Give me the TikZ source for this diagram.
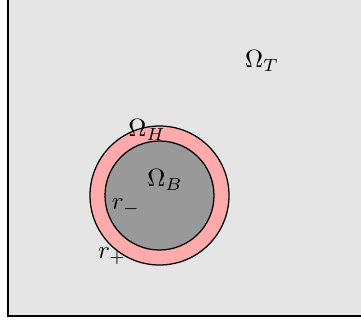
\documentclass[tikz,border=0pt]{standalone}
\begin{document}
\begin{tikzpicture}[x=0.4pt,y=-0.4pt,
  lbl/.style={inner sep=0pt}]
\useasboundingbox (0,0) rectangle (361,322);
\clip (0,0) rectangle (361,322);
\fill[white] (0,0) rectangle (361,322);
\draw[fill=black!10, line width=0.8pt] (8,-20) rectangle (380,316);
\draw[fill=red!33, line width=0.5pt] (159.5,195.5) circle[radius=69.5];
\draw[fill=black!40, line width=0.5pt] (159.5,195.5) circle[radius=54.5];
\node[lbl] (omT) at (262,61) {$\Omega_T$};
\node[lbl] (omH) at (147,130) {$\Omega_H$};
\node[lbl] (omB) at (165,180) {$\Omega_B$};
\node[lbl] (rm) at (126,207) {$r_-$};
\node[lbl] (rp) at (112,256) {$r_+$};
\end{tikzpicture}
\end{document}
